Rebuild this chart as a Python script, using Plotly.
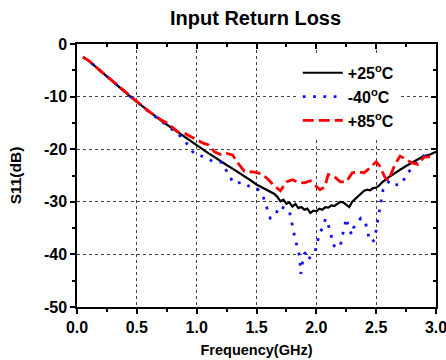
import plotly.graph_objects as go

# +25°C (black solid)
f25 = [0.05, 0.1, 0.15, 0.2, 0.25, 0.3, 0.35, 0.4, 0.45, 0.5, 0.55, 0.6, 0.65, 0.7, 0.75,
       0.8, 0.85, 0.9, 0.95, 1.0, 1.05, 1.1, 1.15, 1.2, 1.25, 1.3, 1.35, 1.4, 1.45, 1.5,
       1.55, 1.6, 1.625, 1.65, 1.675, 1.7, 1.725, 1.75, 1.775, 1.8, 1.825, 1.85, 1.875, 1.9,
       1.925, 1.95, 1.975, 2.0, 2.025, 2.05, 2.075, 2.1, 2.125, 2.15, 2.175, 2.2, 2.225,
       2.25, 2.275, 2.3, 2.325, 2.35, 2.375, 2.4, 2.425, 2.45, 2.475, 2.5, 2.525, 2.55,
       2.6, 2.65, 2.7, 2.75, 2.8, 2.85, 2.9, 2.95, 3.0]
s25 = [-2.5, -3.2, -4.2, -5.2, -6.2, -7.1, -8.1, -9.1, -10.1, -11.0, -11.9, -12.8, -13.7, -14.5, -15.3,
       -16.1, -16.9, -17.7, -18.5, -19.2, -20.0, -20.8, -21.5, -22.3, -23.0, -23.7, -24.4, -25.2, -25.9, -26.7,
       -27.3, -27.8, -28.1, -28.5, -29.1, -29.9, -29.6, -30.4, -30.1, -30.9, -30.4, -31.2, -31.0, -31.5,
       -31.3, -32.1, -31.7, -31.8, -31.3, -31.5, -31.0, -31.1, -30.7, -30.8, -30.4, -30.0, -30.1,
       -30.5, -31.0, -30.0, -29.5, -29.0, -28.5, -27.9, -27.7, -27.8, -27.4, -27.3, -26.9, -26.3,
       -25.4, -24.6, -23.9, -23.2, -22.5, -21.9, -21.3, -21.0, -20.5]

# -40°C (blue dotted)
f40 = [0.05, 0.1, 0.2, 0.3, 0.4, 0.5, 0.6, 0.7, 0.8, 0.85, 0.92, 0.98, 1.07, 1.14, 1.215,
       1.26, 1.31, 1.38, 1.45, 1.51, 1.56, 1.59, 1.615, 1.655, 1.69, 1.74, 1.775, 1.79, 1.81,
       1.82, 1.84, 1.86, 1.87, 1.88, 1.9, 1.915, 1.937, 1.957, 1.99, 2.007, 2.026, 2.054,
       2.077, 2.1, 2.124, 2.138, 2.166, 2.2, 2.213, 2.235, 2.249, 2.271, 2.296, 2.31, 2.346,
       2.374, 2.396, 2.421, 2.438, 2.463, 2.488, 2.513, 2.527, 2.544, 2.558, 2.61, 2.66,
       2.716, 2.755, 2.81, 2.86, 2.9, 2.94]
s40 = [-2.5, -3.2, -5.2, -7.1, -9.1, -11.0, -12.9, -14.6, -16.4, -17.2, -19.0, -20.9, -21.5, -22.4, -22.5,
       -24.6, -26.5, -26.3, -27.2, -27.6, -29.3, -31.3, -33.1, -32.7, -30.8, -31.3, -31.7, -33.6, -35.3,
       -37.2, -38.4, -40.4, -43.7, -42.0, -39.9, -39.6, -40.9, -40.2, -39.4, -37.9, -36.0, -34.9,
       -33.2, -34.4, -36.3, -38.2, -38.6, -38.6, -36.7, -35.0, -33.1, -34.9, -36.3, -35.0, -33.7,
       -33.1, -33.4, -34.7, -36.7, -37.7, -37.2, -33.5, -31.5, -29.6, -27.7, -26.0, -26.8,
       -26.6, -24.6, -23.5, -22.0, -21.2, -20.1]

# +85°C (red dashed)
f85 = [0.05, 0.1, 0.2, 0.3, 0.4, 0.5, 0.6, 0.7, 0.75, 0.8, 0.85, 0.9, 0.95, 1.0, 1.05,
       1.1, 1.15, 1.2, 1.25, 1.3, 1.35, 1.4, 1.45, 1.5, 1.55, 1.6, 1.65, 1.7, 1.75, 1.8,
       1.85, 1.9, 1.95, 2.0, 2.03, 2.07, 2.1, 2.15, 2.2, 2.25, 2.3, 2.35, 2.4, 2.45, 2.5,
       2.53, 2.57, 2.6, 2.63, 2.66, 2.7, 2.75, 2.8, 2.85, 2.9, 2.95]
s85 = [-2.5, -3.2, -5.2, -7.1, -9.1, -11.0, -12.8, -14.4, -15.0, -15.9, -16.8, -17.0, -17.6, -18.3, -18.8,
       -19.2, -20.5, -21.0, -20.8, -21.1, -22.8, -24.2, -24.3, -24.4, -24.8, -25.8, -27.0, -27.9, -26.2, -25.8,
       -26.3, -26.4, -26.0, -27.0, -27.7, -27.2, -24.8, -25.2, -26.2, -26.2, -24.5, -24.3, -24.5, -23.5, -22.4,
       -23.2, -25.2, -26.0, -24.3, -22.8, -21.3, -22.0, -22.6, -22.9, -21.5, -21.4]

xticks = [0.0, 0.5, 1.0, 1.5, 2.0, 2.5, 3.0]
xticklabels = ["0.0", "0.5", "1.0", "1.5", "2.0", "2.5", "3.0"]
yticks = [0, -10, -20, -30, -40, -50]
yticklabels = ["0", "-10", "-20", "-30", "-40", "-50"]

FONT = "Liberation Sans, Arial, sans-serif"

def b(s):
    return "<b>" + s + "</b>"

fig = go.Figure()
fig.add_trace(go.Scatter(x=f25, y=s25, mode="lines", name=b("+25<sup>o</sup>C"),
                         line=dict(color="black", width=2.2)))
fig.add_trace(go.Scatter(x=f40, y=s40, mode="lines", name=b("-40<sup>o</sup>C"),
                         line=dict(color="#1010ff", width=2.8, dash="2.8px,7.5px")))
fig.add_trace(go.Scatter(x=f85, y=s85, mode="lines", name=b("+85<sup>o</sup>C"),
                         line=dict(color="#ff0000", width=2.8, dash="11px,5px")))
# invisible trace to host the mirrored (top/right) axes
fig.add_trace(go.Scatter(x=[], y=[], xaxis="x2", yaxis="y2", showlegend=False,
                         hoverinfo="skip"))

axfont = dict(family=FONT, size=16, color="black", weight="bold")

fig.update_layout(
    width=446, height=360,
    margin=dict(l=77, r=10, t=44, b=53, autoexpand=False),
    paper_bgcolor="white", plot_bgcolor="white",
    title=dict(text=b("Input Return Loss"), x=0.573, xanchor="center", y=0.95, yanchor="middle",
               font=dict(family=FONT, size=20, color="black"), automargin=False),
    showlegend=True,
    legend=dict(x=0.615, y=0.955, xanchor="left", yanchor="top",
                bgcolor="white", borderwidth=0, itemwidth=40,
                font=dict(family=FONT, size=16, color="black"),
                tracegroupgap=0),
    xaxis=dict(range=[0, 3], tickvals=xticks, ticktext=[b(t) for t in xticklabels],
               showline=True, linecolor="black", linewidth=1.5, automargin=False,
               ticklabeloverflow="allow",
               ticks="outside", ticklen=5, tickwidth=1.5, tickcolor="black",
               minor=dict(dtick=0.25, ticks="outside", ticklen=3, tickwidth=1.5, tickcolor="black"),
               showgrid=True, gridcolor="#444444", gridwidth=1, griddash="dot",
               tickfont=axfont, zeroline=False,
               title=dict(text=b("Frequency(GHz)"), standoff=10,
                          font=dict(family=FONT, size=14.5, color="black"))),
    yaxis=dict(range=[-50, 0], tickvals=yticks, ticktext=[b(t) for t in yticklabels],
               showline=True, linecolor="black", linewidth=1.5, automargin=False,
               ticklabeloverflow="allow",
               ticks="outside", ticklen=5, tickwidth=1.5, tickcolor="black",
               minor=dict(dtick=5, ticks="outside", ticklen=3, tickwidth=1.5, tickcolor="black"),
               showgrid=True, gridcolor="#444444", gridwidth=1, griddash="dot",
               tickfont=axfont, zeroline=False,
               title=dict(text=b("S11(dB)"), standoff=18,
                          font=dict(family=FONT, size=15.5, color="black"))),
    xaxis2=dict(range=[0, 3], overlaying="x", side="top", anchor="y2", automargin=False,
                tickvals=xticks, showticklabels=False,
                showline=True, linecolor="black", linewidth=1.5,
                ticks="inside", ticklen=5, tickwidth=1.5, tickcolor="black",
                minor=dict(dtick=0.25, ticks="inside", ticklen=3, tickwidth=1.5, tickcolor="black"),
                showgrid=False, zeroline=False),
    yaxis2=dict(range=[-50, 0], overlaying="y", side="right", anchor="x2", automargin=False,
                tickvals=yticks, showticklabels=False,
                showline=True, linecolor="black", linewidth=1.5,
                ticks="inside", ticklen=5, tickwidth=1.5, tickcolor="black",
                minor=dict(dtick=5, ticks="inside", ticklen=3, tickwidth=1.5, tickcolor="black"),
                showgrid=False, zeroline=False),
)

fig.write_html("out.html")
